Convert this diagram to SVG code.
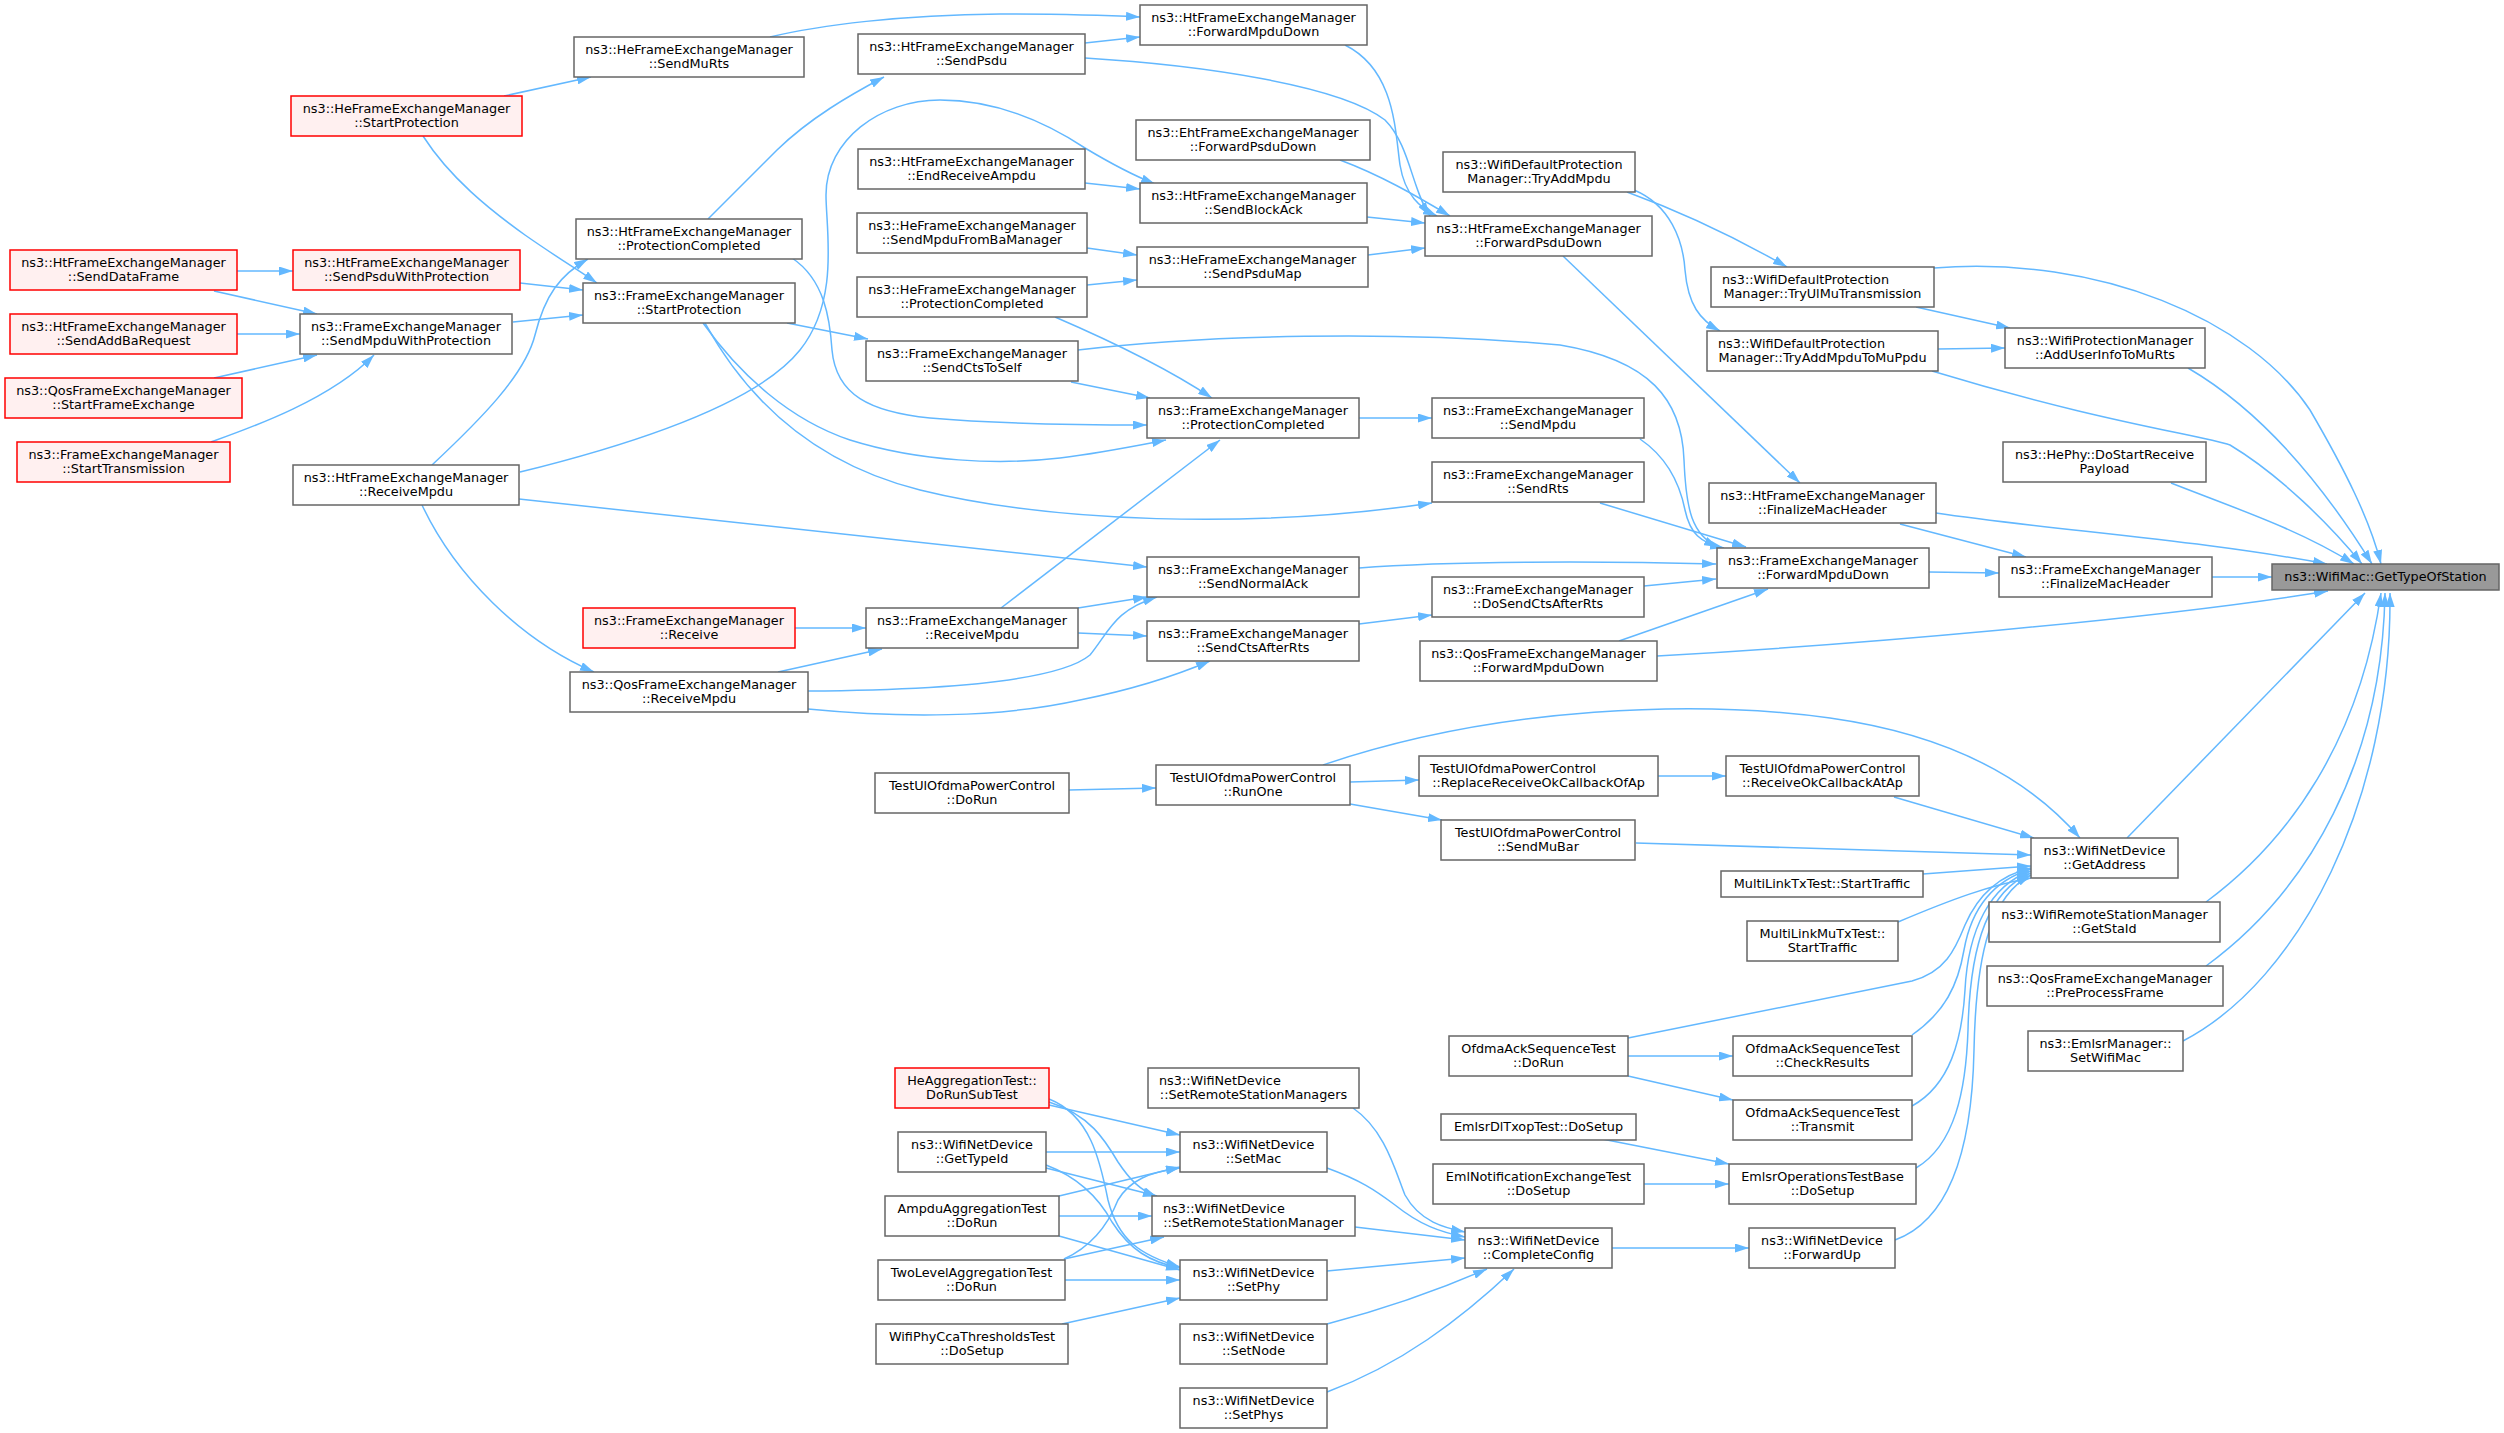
<svg xmlns="http://www.w3.org/2000/svg" width="2504" height="1433" viewBox="0 0 2504 1433">
<style>
.n rect{fill:#fff;stroke:#666;stroke-width:1.5}
.r rect{fill:#fff0f0;stroke:#f00;stroke-width:1.5}
.s rect{fill:#999;stroke:#666;stroke-width:1.5}
text{font-family:"DejaVu Sans",sans-serif;font-size:12.8px;fill:#000}
.c{text-anchor:middle}
.e path{fill:none;stroke:#63b8ff;stroke-width:1.5;marker-end:url(#a)}
</style>
<defs>
<marker id="a" markerUnits="userSpaceOnUse" viewBox="0 0 14 9" markerWidth="14" markerHeight="9" refX="14" refY="4.5" orient="auto"><path d="M0,0 L14,4.5 L0,9 z" fill="#63b8ff"/></marker>
</defs>
<rect width="2504" height="1433" fill="#fff"/>
<g id="edges" class="e">
<path d="M504,96 L591,77"/>
<path d="M423,136 C450,178 490,210 525,235 C555,256 578,270 597,283"/>
<path d="M237,271 L293,271"/>
<path d="M214,291 L317,314"/>
<path d="M237,334 L300,334"/>
<path d="M214,378 L317,355"/>
<path d="M211,442 C250,428 330,400 374,355"/>
<path d="M520,283 L583,290"/>
<path d="M513,322 L583,315"/>
<path d="M432,465 C480,420 525,375 535,335 C545,295 560,275 588,259"/>
<path d="M520,472 C650,440 760,400 800,350 C840,300 826,230 826,195 C826,140 880,100 940,100 C1000,100 1050,125 1085,148 C1110,163 1130,174 1155,184"/>
<path d="M519,499 L1147,567"/>
<path d="M422,505 C455,575 520,640 594,672"/>
<path d="M708,219 L777,150 C810,118 850,95 884,77"/>
<path d="M792,258 C825,280 830,320 832,350 C836,395 870,412 930,418 C1000,424 1080,425 1147,425"/>
<path d="M787,323 L868,339"/>
<path d="M703,323 C740,375 790,420 850,440 C920,462 1000,465 1060,458 C1100,453 1140,445 1166,440"/>
<path d="M705,323 C750,405 820,465 920,490 C1050,522 1250,530 1432,503"/>
<path d="M1055,317 C1120,345 1170,370 1212,398"/>
<path d="M1071,382 L1150,398"/>
<path d="M1078,350 C1200,335 1400,330 1560,345 C1650,360 1682,400 1684,460 C1686,510 1692,535 1718,547"/>
<path d="M1640,439 C1668,458 1680,485 1685,510 C1690,533 1700,543 1724,548"/>
<path d="M1359,418 L1432,418"/>
<path d="M1359,568 C1450,561 1600,561 1716,564"/>
<path d="M1644,586 L1716,579"/>
<path d="M1619,641 L1768,589"/>
<path d="M1657,656 C1850,645 2150,620 2328,591"/>
<path d="M795,628 L866,628"/>
<path d="M778,672 L882,649"/>
<path d="M808,691 C950,690 1060,680 1090,655 C1110,630 1115,610 1157,597"/>
<path d="M808,709 C900,718 1000,718 1080,700 C1130,690 1170,678 1210,661"/>
<path d="M1001,608 L1220,440"/>
<path d="M1078,608 L1147,597"/>
<path d="M1078,633 L1147,636"/>
<path d="M1359,624 L1432,615"/>
<path d="M1600,503 L1746,547"/>
<path d="M770,37 C820,25 900,15 1000,14 C1060,14 1100,15 1140,17"/>
<path d="M1085,43 L1140,37"/>
<path d="M1085,58 C1200,65 1340,85 1385,120 C1410,145 1412,190 1430,216"/>
<path d="M1345,45 C1395,70 1395,130 1400,165 C1405,195 1420,208 1437,216"/>
<path d="M1340,160 C1380,175 1415,195 1450,216"/>
<path d="M1367,217 L1425,223"/>
<path d="M1368,255 L1425,248"/>
<path d="M1085,183 L1140,189"/>
<path d="M1087,248 L1137,255"/>
<path d="M1087,285 L1137,280"/>
<path d="M1563,256 L1800,483"/>
<path d="M1627,192 C1690,215 1740,240 1787,267"/>
<path d="M1634,190 C1670,205 1683,240 1685,270 C1688,305 1700,320 1720,331"/>
<path d="M1916,307 L2010,328"/>
<path d="M1938,349 L2005,348"/>
<path d="M1934,268 C2100,255 2250,320 2310,410 C2345,470 2370,520 2381,564"/>
<path d="M2188,368 C2260,410 2320,480 2372,564"/>
<path d="M1932,371 C2100,422 2200,435 2230,445 C2280,475 2330,525 2362,564"/>
<path d="M2171,483 C2240,510 2300,530 2354,564"/>
<path d="M1936,513 C2050,530 2200,540 2327,564"/>
<path d="M1900,524 L2026,557"/>
<path d="M1929,572 L1999,573"/>
<path d="M2212,577 L2272,577"/>
<path d="M2127,838 L2365,593"/>
<path d="M2206,902 C2290,840 2360,740 2381,593"/>
<path d="M2206,966 C2310,890 2382,760 2385,593"/>
<path d="M2183,1041 C2300,980 2392,800 2390,593"/>
<path d="M1323,765 C1500,705 1700,700 1830,718 C1950,735 2030,780 2080,838"/>
<path d="M1894,797 L2034,838"/>
<path d="M1658,776 L1726,776"/>
<path d="M1350,782 L1419,780"/>
<path d="M1350,804 L1442,820"/>
<path d="M1069,790 L1156,788"/>
<path d="M1636,843 C1800,848 1950,852 2031,855"/>
<path d="M1923,874 L2031,866"/>
<path d="M1898,922 C1950,900 1990,885 2031,878"/>
<path d="M1628,1038 L1912,981 C1945,972 1955,950 1965,925 C1978,895 2000,875 2031,868"/>
<path d="M1628,1056 L1733,1056"/>
<path d="M1628,1076 L1733,1100"/>
<path d="M1912,1035 C1945,1012 1958,985 1964,950 C1972,905 1995,880 2031,869"/>
<path d="M1912,1106 C1950,1085 1962,1040 1965,990 C1968,930 1990,885 2031,871"/>
<path d="M1916,1168 C1955,1145 1966,1090 1968,1030 C1970,940 1990,890 2031,873"/>
<path d="M1895,1240 C1950,1220 1972,1150 1974,1050 C1976,950 1992,895 2031,875"/>
<path d="M1602,1139 L1729,1164"/>
<path d="M1644,1184 L1729,1184"/>
<path d="M1612,1248 L1749,1248"/>
<path d="M1353,1108 C1385,1130 1395,1170 1405,1195 C1420,1222 1445,1228 1465,1232"/>
<path d="M1327,1168 C1360,1180 1375,1190 1395,1205 C1420,1225 1440,1232 1465,1237"/>
<path d="M1355,1227 L1465,1240"/>
<path d="M1327,1271 L1465,1258"/>
<path d="M1327,1324 C1400,1305 1450,1285 1487,1269"/>
<path d="M1327,1392 C1400,1365 1460,1320 1514,1269"/>
<path d="M1049,1105 L1180,1135"/>
<path d="M1049,1102 C1090,1115 1105,1140 1118,1162 C1130,1180 1140,1190 1157,1197"/>
<path d="M1049,1099 C1090,1115 1100,1160 1108,1200 C1118,1240 1140,1255 1180,1267"/>
<path d="M1046,1152 L1180,1152"/>
<path d="M1046,1168 L1157,1196"/>
<path d="M1046,1165 C1080,1178 1100,1200 1112,1222 C1130,1250 1150,1262 1180,1268"/>
<path d="M1059,1196 L1180,1167"/>
<path d="M1059,1216 L1152,1216"/>
<path d="M1059,1236 L1180,1270"/>
<path d="M1064,1259 C1095,1245 1110,1220 1118,1200 C1130,1180 1150,1172 1180,1168"/>
<path d="M1064,1259 L1164,1237"/>
<path d="M1065,1280 L1180,1280"/>
<path d="M1062,1324 L1180,1298"/>
</g>
<g id="n_sendDataFrame" class="r"><rect x="10" y="250" width="227" height="40"/><text class="c" x="123.5" y="267.3">ns3::HtFrameExchangeManager</text><text class="c" x="123.5" y="281.3">::SendDataFrame</text></g>
<g id="n_sendAddBaRequest" class="r"><rect x="10" y="314" width="227" height="40"/><text class="c" x="123.5" y="331.3">ns3::HtFrameExchangeManager</text><text class="c" x="123.5" y="345.3">::SendAddBaRequest</text></g>
<g id="n_startFrameExchange" class="r"><rect x="5" y="378" width="237" height="40"/><text class="c" x="123.5" y="395.3">ns3::QosFrameExchangeManager</text><text class="c" x="123.5" y="409.3">::StartFrameExchange</text></g>
<g id="n_startTransmission" class="r"><rect x="17" y="442" width="213" height="40"/><text class="c" x="123.5" y="459.3">ns3::FrameExchangeManager</text><text class="c" x="123.5" y="473.3">::StartTransmission</text></g>
<g id="n_heStartProtection" class="r"><rect x="291" y="96" width="231" height="40"/><text class="c" x="406.5" y="113.3">ns3::HeFrameExchangeManager</text><text class="c" x="406.5" y="127.3">::StartProtection</text></g>
<g id="n_sendPsduWithProtection" class="r"><rect x="293" y="250" width="227" height="40"/><text class="c" x="406.5" y="267.3">ns3::HtFrameExchangeManager</text><text class="c" x="406.5" y="281.3">::SendPsduWithProtection</text></g>
<g id="n_sendMpduWithProtection" class="n"><rect x="300" y="314" width="212" height="40"/><text class="c" x="406" y="331.3">ns3::FrameExchangeManager</text><text class="c" x="406" y="345.3">::SendMpduWithProtection</text></g>
<g id="n_htReceiveMpdu" class="n"><rect x="293" y="465" width="226" height="40"/><text class="c" x="406" y="482.3">ns3::HtFrameExchangeManager</text><text class="c" x="406" y="496.3">::ReceiveMpdu</text></g>
<g id="n_sendMuRts" class="n"><rect x="574" y="37" width="230" height="40"/><text class="c" x="689" y="54.3">ns3::HeFrameExchangeManager</text><text class="c" x="689" y="68.3">::SendMuRts</text></g>
<g id="n_htProtectionCompleted" class="n"><rect x="576" y="219" width="226" height="40"/><text class="c" x="689" y="236.3">ns3::HtFrameExchangeManager</text><text class="c" x="689" y="250.3">::ProtectionCompleted</text></g>
<g id="n_startProtection" class="n"><rect x="583" y="283" width="212" height="40"/><text class="c" x="689" y="300.3">ns3::FrameExchangeManager</text><text class="c" x="689" y="314.3">::StartProtection</text></g>
<g id="n_receive" class="r"><rect x="583" y="608" width="212" height="40"/><text class="c" x="689" y="625.3">ns3::FrameExchangeManager</text><text class="c" x="689" y="639.3">::Receive</text></g>
<g id="n_qosReceiveMpdu" class="n"><rect x="570" y="672" width="238" height="40"/><text class="c" x="689" y="689.3">ns3::QosFrameExchangeManager</text><text class="c" x="689" y="703.3">::ReceiveMpdu</text></g>
<g id="n_sendPsdu" class="n"><rect x="858" y="34" width="227" height="40"/><text class="c" x="971.5" y="51.3">ns3::HtFrameExchangeManager</text><text class="c" x="971.5" y="65.3">::SendPsdu</text></g>
<g id="n_endReceiveAmpdu" class="n"><rect x="858" y="149" width="227" height="40"/><text class="c" x="971.5" y="166.3">ns3::HtFrameExchangeManager</text><text class="c" x="971.5" y="180.3">::EndReceiveAmpdu</text></g>
<g id="n_sendMpduFromBaManager" class="n"><rect x="857" y="213" width="230" height="40"/><text class="c" x="972" y="230.3">ns3::HeFrameExchangeManager</text><text class="c" x="972" y="244.3">::SendMpduFromBaManager</text></g>
<g id="n_heProtectionCompleted" class="n"><rect x="857" y="277" width="230" height="40"/><text class="c" x="972" y="294.3">ns3::HeFrameExchangeManager</text><text class="c" x="972" y="308.3">::ProtectionCompleted</text></g>
<g id="n_sendCtsToSelf" class="n"><rect x="866" y="341" width="212" height="40"/><text class="c" x="972" y="358.3">ns3::FrameExchangeManager</text><text class="c" x="972" y="372.3">::SendCtsToSelf</text></g>
<g id="n_femReceiveMpdu" class="n"><rect x="866" y="608" width="212" height="40"/><text class="c" x="972" y="625.3">ns3::FrameExchangeManager</text><text class="c" x="972" y="639.3">::ReceiveMpdu</text></g>
<g id="n_tuDoRun" class="n"><rect x="875" y="773" width="194" height="40"/><text class="c" x="972" y="790.3">TestUlOfdmaPowerControl</text><text class="c" x="972" y="804.3">::DoRun</text></g>
<g id="n_heAgg" class="r"><rect x="895" y="1068" width="154" height="40"/><text class="c" x="972" y="1085.3">HeAggregationTest::</text><text class="c" x="972" y="1099.3">DoRunSubTest</text></g>
<g id="n_getTypeId" class="n"><rect x="898" y="1132" width="148" height="40"/><text class="c" x="972" y="1149.3">ns3::WifiNetDevice</text><text class="c" x="972" y="1163.3">::GetTypeId</text></g>
<g id="n_ampdu" class="n"><rect x="885" y="1196" width="174" height="40"/><text class="c" x="972" y="1213.3">AmpduAggregationTest</text><text class="c" x="972" y="1227.3">::DoRun</text></g>
<g id="n_twoLevel" class="n"><rect x="878" y="1260" width="187" height="40"/><text class="c" x="971.5" y="1277.3">TwoLevelAggregationTest</text><text class="c" x="971.5" y="1291.3">::DoRun</text></g>
<g id="n_cca" class="n"><rect x="876" y="1324" width="192" height="40"/><text class="c" x="972" y="1341.3">WifiPhyCcaThresholdsTest</text><text class="c" x="972" y="1355.3">::DoSetup</text></g>
<g id="n_htForwardMpduDown" class="n"><rect x="1140" y="5" width="227" height="40"/><text class="c" x="1253.5" y="22.3">ns3::HtFrameExchangeManager</text><text class="c" x="1253.5" y="36.3">::ForwardMpduDown</text></g>
<g id="n_ehtForwardPsduDown" class="n"><rect x="1136" y="120" width="234" height="40"/><text class="c" x="1253" y="137.3">ns3::EhtFrameExchangeManager</text><text class="c" x="1253" y="151.3">::ForwardPsduDown</text></g>
<g id="n_sendBlockAck" class="n"><rect x="1140" y="183" width="227" height="40"/><text class="c" x="1253.5" y="200.3">ns3::HtFrameExchangeManager</text><text class="c" x="1253.5" y="214.3">::SendBlockAck</text></g>
<g id="n_sendPsduMap" class="n"><rect x="1137" y="247" width="231" height="40"/><text class="c" x="1252.5" y="264.3">ns3::HeFrameExchangeManager</text><text class="c" x="1252.5" y="278.3">::SendPsduMap</text></g>
<g id="n_femProtectionCompleted" class="n"><rect x="1147" y="398" width="212" height="40"/><text class="c" x="1253" y="415.3">ns3::FrameExchangeManager</text><text class="c" x="1253" y="429.3">::ProtectionCompleted</text></g>
<g id="n_sendNormalAck" class="n"><rect x="1147" y="557" width="212" height="40"/><text class="c" x="1253" y="574.3">ns3::FrameExchangeManager</text><text class="c" x="1253" y="588.3">::SendNormalAck</text></g>
<g id="n_sendCtsAfterRts" class="n"><rect x="1147" y="621" width="212" height="40"/><text class="c" x="1253" y="638.3">ns3::FrameExchangeManager</text><text class="c" x="1253" y="652.3">::SendCtsAfterRts</text></g>
<g id="n_runOne" class="n"><rect x="1156" y="765" width="194" height="40"/><text class="c" x="1253" y="782.3">TestUlOfdmaPowerControl</text><text class="c" x="1253" y="796.3">::RunOne</text></g>
<g id="n_setRSMs" class="n"><rect x="1148" y="1068" width="211" height="40"/><text x="1159" y="1085.3">ns3::WifiNetDevice</text><text class="c" x="1253.5" y="1099.3">::SetRemoteStationManagers</text></g>
<g id="n_setMac" class="n"><rect x="1180" y="1132" width="147" height="40"/><text class="c" x="1253.5" y="1149.3">ns3::WifiNetDevice</text><text class="c" x="1253.5" y="1163.3">::SetMac</text></g>
<g id="n_setRSM" class="n"><rect x="1152" y="1196" width="203" height="40"/><text x="1163" y="1213.3">ns3::WifiNetDevice</text><text class="c" x="1253.5" y="1227.3">::SetRemoteStationManager</text></g>
<g id="n_setPhy" class="n"><rect x="1180" y="1260" width="147" height="40"/><text class="c" x="1253.5" y="1277.3">ns3::WifiNetDevice</text><text class="c" x="1253.5" y="1291.3">::SetPhy</text></g>
<g id="n_setNode" class="n"><rect x="1180" y="1324" width="147" height="40"/><text class="c" x="1253.5" y="1341.3">ns3::WifiNetDevice</text><text class="c" x="1253.5" y="1355.3">::SetNode</text></g>
<g id="n_setPhys" class="n"><rect x="1180" y="1388" width="147" height="40"/><text class="c" x="1253.5" y="1405.3">ns3::WifiNetDevice</text><text class="c" x="1253.5" y="1419.3">::SetPhys</text></g>
<g id="n_tryAddMpdu" class="n"><rect x="1443" y="152" width="192" height="40"/><text class="c" x="1539" y="169.3">ns3::WifiDefaultProtection</text><text class="c" x="1539" y="183.3">Manager::TryAddMpdu</text></g>
<g id="n_htForwardPsduDown" class="n"><rect x="1425" y="216" width="227" height="40"/><text class="c" x="1538.5" y="233.3">ns3::HtFrameExchangeManager</text><text class="c" x="1538.5" y="247.3">::ForwardPsduDown</text></g>
<g id="n_sendMpdu" class="n"><rect x="1432" y="398" width="212" height="40"/><text class="c" x="1538" y="415.3">ns3::FrameExchangeManager</text><text class="c" x="1538" y="429.3">::SendMpdu</text></g>
<g id="n_sendRts" class="n"><rect x="1432" y="462" width="212" height="40"/><text class="c" x="1538" y="479.3">ns3::FrameExchangeManager</text><text class="c" x="1538" y="493.3">::SendRts</text></g>
<g id="n_doSendCtsAfterRts" class="n"><rect x="1432" y="577" width="212" height="40"/><text class="c" x="1538" y="594.3">ns3::FrameExchangeManager</text><text class="c" x="1538" y="608.3">::DoSendCtsAfterRts</text></g>
<g id="n_qosForwardMpduDown" class="n"><rect x="1420" y="641" width="237" height="40"/><text class="c" x="1538.5" y="658.3">ns3::QosFrameExchangeManager</text><text class="c" x="1538.5" y="672.3">::ForwardMpduDown</text></g>
<g id="n_replace" class="n"><rect x="1419" y="756" width="239" height="40"/><text x="1430" y="773.3">TestUlOfdmaPowerControl</text><text class="c" x="1538.5" y="787.3">::ReplaceReceiveOkCallbackOfAp</text></g>
<g id="n_sendMuBar" class="n"><rect x="1441" y="820" width="194" height="40"/><text class="c" x="1538" y="837.3">TestUlOfdmaPowerControl</text><text class="c" x="1538" y="851.3">::SendMuBar</text></g>
<g id="n_ofdmaDoRun" class="n"><rect x="1449" y="1036" width="179" height="40"/><text class="c" x="1538.5" y="1053.3">OfdmaAckSequenceTest</text><text class="c" x="1538.5" y="1067.3">::DoRun</text></g>
<g id="n_emlsrDlTxop" class="n"><rect x="1441" y="1114" width="195" height="26"/><text class="c" x="1538.5" y="1131.3">EmlsrDlTxopTest::DoSetup</text></g>
<g id="n_emlNotification" class="n"><rect x="1433" y="1164" width="211" height="40"/><text class="c" x="1538.5" y="1181.3">EmlNotificationExchangeTest</text><text class="c" x="1538.5" y="1195.3">::DoSetup</text></g>
<g id="n_completeConfig" class="n"><rect x="1465" y="1228" width="147" height="40"/><text class="c" x="1538.5" y="1245.3">ns3::WifiNetDevice</text><text class="c" x="1538.5" y="1259.3">::CompleteConfig</text></g>
<g id="n_tryUlMu" class="n"><rect x="1711" y="267" width="223" height="40"/><text x="1722" y="284.3">ns3::WifiDefaultProtection</text><text class="c" x="1822.5" y="298.3">Manager::TryUlMuTransmission</text></g>
<g id="n_tryAddMpduToMuPpdu" class="n"><rect x="1707" y="331" width="231" height="40"/><text x="1718" y="348.3">ns3::WifiDefaultProtection</text><text class="c" x="1822.5" y="362.3">Manager::TryAddMpduToMuPpdu</text></g>
<g id="n_htFinalizeMacHeader" class="n"><rect x="1709" y="483" width="227" height="40"/><text class="c" x="1822.5" y="500.3">ns3::HtFrameExchangeManager</text><text class="c" x="1822.5" y="514.3">::FinalizeMacHeader</text></g>
<g id="n_femForwardMpduDown" class="n"><rect x="1717" y="548" width="212" height="40"/><text class="c" x="1823" y="565.3">ns3::FrameExchangeManager</text><text class="c" x="1823" y="579.3">::ForwardMpduDown</text></g>
<g id="n_receiveOkAtAp" class="n"><rect x="1726" y="756" width="193" height="40"/><text class="c" x="1822.5" y="773.3">TestUlOfdmaPowerControl</text><text class="c" x="1822.5" y="787.3">::ReceiveOkCallbackAtAp</text></g>
<g id="n_multiLinkTx" class="n"><rect x="1721" y="871" width="202" height="26"/><text class="c" x="1822" y="888.3">MultiLinkTxTest::StartTraffic</text></g>
<g id="n_multiLinkMuTx" class="n"><rect x="1747" y="921" width="151" height="40"/><text class="c" x="1822.5" y="938.3">MultiLinkMuTxTest::</text><text class="c" x="1822.5" y="952.3">StartTraffic</text></g>
<g id="n_checkResults" class="n"><rect x="1733" y="1036" width="179" height="40"/><text class="c" x="1822.5" y="1053.3">OfdmaAckSequenceTest</text><text class="c" x="1822.5" y="1067.3">::CheckResults</text></g>
<g id="n_transmit" class="n"><rect x="1733" y="1100" width="179" height="40"/><text class="c" x="1822.5" y="1117.3">OfdmaAckSequenceTest</text><text class="c" x="1822.5" y="1131.3">::Transmit</text></g>
<g id="n_emlsrOpsBase" class="n"><rect x="1729" y="1164" width="187" height="40"/><text class="c" x="1822.5" y="1181.3">EmlsrOperationsTestBase</text><text class="c" x="1822.5" y="1195.3">::DoSetup</text></g>
<g id="n_forwardUp" class="n"><rect x="1749" y="1228" width="146" height="40"/><text class="c" x="1822" y="1245.3">ns3::WifiNetDevice</text><text class="c" x="1822" y="1259.3">::ForwardUp</text></g>
<g id="n_addUserInfo" class="n"><rect x="2005" y="328" width="200" height="40"/><text class="c" x="2105" y="345.3">ns3::WifiProtectionManager</text><text class="c" x="2105" y="359.3">::AddUserInfoToMuRts</text></g>
<g id="n_hePhy" class="n"><rect x="2003" y="442" width="203" height="40"/><text class="c" x="2104.5" y="459.3">ns3::HePhy::DoStartReceive</text><text class="c" x="2104.5" y="473.3">Payload</text></g>
<g id="n_femFinalizeMacHeader" class="n"><rect x="1999" y="557" width="213" height="40"/><text class="c" x="2105.5" y="574.3">ns3::FrameExchangeManager</text><text class="c" x="2105.5" y="588.3">::FinalizeMacHeader</text></g>
<g id="n_getAddress" class="n"><rect x="2031" y="838" width="147" height="40"/><text class="c" x="2104.5" y="855.3">ns3::WifiNetDevice</text><text class="c" x="2104.5" y="869.3">::GetAddress</text></g>
<g id="n_getStaId" class="n"><rect x="1989" y="902" width="231" height="40"/><text class="c" x="2104.5" y="919.3">ns3::WifiRemoteStationManager</text><text class="c" x="2104.5" y="933.3">::GetStaId</text></g>
<g id="n_preProcessFrame" class="n"><rect x="1987" y="966" width="236" height="40"/><text class="c" x="2105" y="983.3">ns3::QosFrameExchangeManager</text><text class="c" x="2105" y="997.3">::PreProcessFrame</text></g>
<g id="n_setWifiMac" class="n"><rect x="2028" y="1031" width="155" height="40"/><text class="c" x="2105.5" y="1048.3">ns3::EmlsrManager::</text><text class="c" x="2105.5" y="1062.3">SetWifiMac</text></g>
<g id="n_getTypeOfStation" class="s"><rect x="2272" y="564" width="227" height="26"/><text class="c" x="2385.5" y="581.3">ns3::WifiMac::GetTypeOfStation</text></g>
</svg>
